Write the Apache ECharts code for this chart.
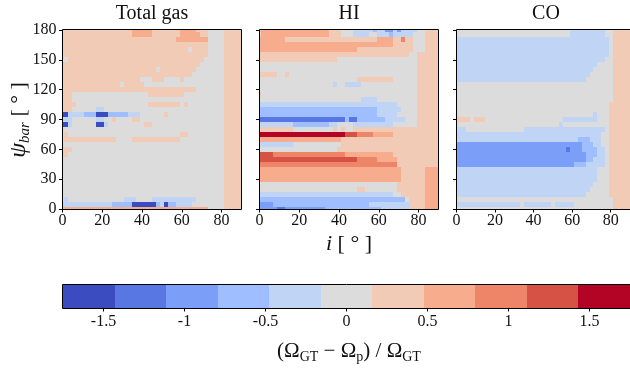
<!DOCTYPE html>
<html><head><meta charset="utf-8">
<script src="https://cdn.jsdelivr.net/npm/echarts@6.0.0/dist/echarts.min.js"></script>
<style>html,body{margin:0;padding:0;background:#fff}#c{width:630px;height:368px}</style>
</head><body><div id="c"></div>
<script>
// ---------------- data ----------------
const panelTitles = ['Total gas', 'HI', 'CO'];
// inclination i (deg), cell centres
const inclination = [0,2,4,6,8,10,12,14,16,18,20,22,24,26,28,30,32,34,36,38,40,42,44,46,48,50,52,54,56,58,60,62,64,66,68,70,72,74,76,78,80,82,84,86,88,90];
// bar angle psi_bar (deg), rows top -> bottom
const psiBar = [180,175,170,165,160,155,150,145,140,135,130,125,120,115,110,105,100,95,90,85,80,75,70,65,60,55,50,45,40,35,30,25,20,15,10,5,0];
const xTicks = [0,20,40,60,80];
const yTicks = [0,30,60,90,120,150,180];
const cbTicks = [-1.5,-1,-0.5,0,0.5,1,1.5];
const cbEdges = [-1.75,-1.432,-1.114,-0.795,-0.477,-0.159,0.159,0.477,0.795,1.114,1.432,1.75];
const cbColors = ['#3b4cc0','#5977e3','#7b9ff9','#9ebeff','#c0d4f5','#dddcdc','#f2cbb7','#f7ac8e','#ee8468','#d65244','#b40426'];
// estimated (Ω_GT − Ω_p)/Ω_GT per colour class
const codeValues = {E:-1.59,D:-1.27,C:-0.95,B:-0.64,A:-0.32,'.':0,a:0.32,b:0.64,c:0.95,d:1.27,e:1.59};
// run-length rows: <class><count>, 46 cells per row (i = 0..90)
const totalGasRows = [
'a18b5a7b4a3.4a5','a18b5a7b5a2.4a5','a29b8.4a5','a37.4a5','a32.1a4.4a5','a37.4a5',
'.2a34.5a5','a35.6a5','a24.1a9.7a5','a33.8a5','a20.3a3.4a1.10a5','a15.1a5.20a5',
'a34.7a5','a3.19a9.10a5','a3.38a5','a4.18a8.1a1.9a5','a3.6A2.30a5',
'E2A4B3E3B5A3.6a1.14a5','A3.6A2.2a1.4a2.21a5','E2A1.6E2A1.9a2.18a5','.41a5',
'.1a1.28a2.9a5','.1a13.4a12.11a5','.41a5','a3.38a5','a2.39a5','.41a5','.41a5',
'.41a5','.41a5','.41a5','.41a5','.41a5','.41a5',
'.1A1.14A3.4A11.7a5','A13B5E6B1A1E1B2A4.8a5','b37.4a5'];
const hiRows = [
'a1b17a3.3A5B1A2C2A1C1A4.2a4','a1b17a3.3A4.2A3B1A5.3a4','b7a23b4a2c1a2.3a4','b34a5.3a4',
'b25a14.3a4','a38.2a6','a20.20a6','.40a6','.40a6','a5.2a1.32a6','.25a9.6a6',
'.19A1.2A4.14a6','.40a6','a1.39a6','.26A4.10a6','A35.5a6','B30A6.4a6','B30A5.5a6',
'D22B1D2B7A5.3a6','A9B9A2.4A10.6a6','a9.10a1.1a1.2a22','e22d3c4b5a12','b21a25',
'A9.12a25','.20a26','d4c18b12a12','d25c5b5a11','c35a11','b36a6b4','b36a6b4','b36a6b4',
'.35a7b4','.25a2.8a7b4','A34.2a6b4','B37.1a4b4','C4B24A10a4b4','C5D2C10B14A7a4b4'];
const coRows = [
'.30A9.2a5','.30A9.2a5','A40.1a5','A40.1a5','A40.1a5','A40.1a5','A39.2a5','A37.4a5',
'A36.5a5','A35.6a5','A34.7a5','.41a5','.41a5','.41a5','.41a5','.40a6','.40a6',
'.36A1.3a6','a4.1a3.20A9.3a6','.27A1.12a6','.1A2.15A21.1a6','A38.2a6','A32B3A3.2a6',
'C33B3A2.2a6','C29D1C3B4A2.1a6','C34B3A2.1a6','C34B2A3.1a6','C31B3A5.1a6',
'A37.3a6','A37.3a6','A37.3a6','A36.4a6','A35.5a6','A34.6a6','.41a5',
'A17.1A7.1A5.10a5','.41a5'];

// ---------------- build ----------------
function decode(rows){
  const out = [];
  rows.forEach((r,k)=>{
    const cells = [];
    r.replace(/([A-Ea-e.])(\d+)/g,(m,c,n)=>{for(let t=0;t<+n;t++)cells.push(c);return m;});
    for(let j=0;j<inclination.length;j++){
      const c = cells[j] !== undefined ? cells[j] : cells[cells.length-1];
      out.push([inclination[j], psiBar[k], codeValues[c]]);
    }
  });
  return out;
}
const FONT = 'Liberation Serif';
const chart = echarts.init(document.getElementById('c'), null, {renderer:'canvas'});
const gridLefts = [62.5, 259.5, 456.5];
const PW = 179, PT = 30, PH = 179;
const grids = [], xAxes = [], yAxes = [], series = [];
const panelData = [totalGasRows, hiRows, coRows].map(decode);
const halfI = 1, halfP = 2.5;

function cellItem(params, api){
  const i = api.value(0), p = api.value(1);
  const a = api.coord([i-halfI, p+halfP]);
  const b = api.coord([i+halfI, p-halfP]);
  const cs = params.coordSys;
  const x0 = Math.round(Math.max(a[0], cs.x)), x1 = Math.round(Math.min(b[0], cs.x+cs.width));
  const y0 = Math.round(Math.max(a[1], cs.y)), y1 = Math.round(Math.min(b[1], cs.y+cs.height));
  if (x1<=x0 || y1<=y0) return null;
  return {type:'rect', shape:{x:x0,y:y0,width:x1-x0,height:y1-y0}, style:{fill:api.visual('color')}};
}
const tickSt = {color:'#000', width:1};
gridLefts.forEach((L,k)=>{
  grids.push({left:L, top:PT, width:PW, height:PH});
  xAxes.push({gridIndex:k, type:'value', min:0, max:90, interval:20, position:'bottom',
    axisLine:{show:false, onZero:false},
    axisTick:{show:true, length:3.5, customValues:xTicks, lineStyle:tickSt},
    axisLabel:{show:true, customValues:xTicks, margin:4, fontSize:16, color:'#111', fontFamily:FONT},
    splitLine:{show:false}});
  yAxes.push({gridIndex:k, type:'value', min:0, max:180, interval:30, position:'left',
    axisLine:{show:false, onZero:false},
    axisTick:{show:true, length:3.5, customValues:yTicks, lineStyle:tickSt},
    axisLabel:{show:k===0, customValues:yTicks, margin:6, fontSize:16, color:'#111', fontFamily:FONT},
    splitLine:{show:false}});
  series.push({type:'custom', name:panelTitles[k], xAxisIndex:k, yAxisIndex:k, data:panelData[k],
    encode:{x:0, y:1}, renderItem:cellItem, clip:true, z:2, silent:true});
});
// colour bar
const CB = {left:63, top:285, width:568, height:23};
grids.push(CB);
xAxes.push({gridIndex:3, type:'value', min:-1.75, max:1.75, position:'bottom',
  axisLine:{show:false, onZero:false},
  axisTick:{show:true, length:3.5, customValues:cbTicks, lineStyle:tickSt},
  axisLabel:{show:true, customValues:cbTicks, margin:6, fontSize:16, color:'#111', fontFamily:FONT},
  splitLine:{show:false}});
yAxes.push({gridIndex:3, type:'value', min:0, max:1, position:'left',
  axisLine:{show:false, onZero:false}, axisTick:{show:false}, axisLabel:{show:false}, splitLine:{show:false}});
series.push({type:'custom', name:'colorbar', xAxisIndex:3, yAxisIndex:3,
  data:cbColors.map((c,k)=>[cbEdges[k], cbEdges[k+1], (cbEdges[k]+cbEdges[k+1])/2]),
  encode:{x:[0,1]}, clip:true, z:2, silent:true,
  renderItem:function(params, api){
    const a = api.coord([api.value(0), 1]);
    const b = api.coord([api.value(1), 0]);
    const x0 = Math.round(a[0]), x1 = Math.round(b[0]);
    return {type:'rect', shape:{x:x0, y:a[1], width:x1-x0, height:b[1]-a[1]}, style:{fill:api.visual('color')}};
  }});

const pieces = cbColors.map((c,k)=>k===cbColors.length-1 ? {gte:cbEdges[k], lte:cbEdges[k+1], color:c} : {gte:cbEdges[k], lt:cbEdges[k+1], color:c});

const txt = '#111';
const graphic = [];
gridLefts.forEach((L)=>{
  graphic.push({type:'rect', silent:true, z:100,
    shape:{x:L, y:PT-0.5, width:PW, height:PH+1}, style:{fill:null, stroke:'#000', lineWidth:1}});
});
graphic.push({type:'rect', silent:true, z:100,
  shape:{x:CB.left-0.5, y:CB.top-0.5, width:CB.width, height:CB.height+1}, style:{fill:null, stroke:'#000', lineWidth:1}});
panelTitles.forEach((t,k)=>{
  graphic.push({type:'text', x:gridLefts[k]+PW/2, y:14, silent:true,
    style:{text:t, fontFamily:FONT, fontSize:20, fill:txt, align:'center', verticalAlign:'middle'}});
});
graphic.push({type:'text', x:19, y:120, rotation:Math.PI/2, silent:true,
  style:{text:'{it|ψ}{sub|bar}{n| [ ° ]}', align:'center', verticalAlign:'middle', fill:txt,
    rich:{it:{fontFamily:FONT, fontStyle:'italic', fontSize:24, lineHeight:28, fill:txt},
          sub:{fontFamily:FONT, fontStyle:'italic', fontSize:15, lineHeight:14, verticalAlign:'bottom', fill:txt},
          n:{fontFamily:FONT, fontSize:22, lineHeight:28, fill:txt}}}});
graphic.push({type:'text', x:gridLefts[1]+PW/2, y:244, silent:true,
  style:{text:'{it|i}{n| [ ° ]}', align:'center', verticalAlign:'middle', fill:txt,
    rich:{it:{fontFamily:FONT, fontStyle:'italic', fontSize:22, lineHeight:26, fill:txt},
          n:{fontFamily:FONT, fontSize:22, lineHeight:26, fill:txt}}}});
graphic.push({type:'text', x:349, y:351, silent:true,
  style:{text:'{n|(Ω}{sub|GT}{n| − Ω}{sub|p}{n|) / Ω}{sub|GT}', align:'center', verticalAlign:'middle', fill:txt,
    rich:{n:{fontFamily:FONT, fontSize:21, lineHeight:26, fill:txt},
          sub:{fontFamily:FONT, fontSize:14, lineHeight:14, verticalAlign:'bottom', fill:txt}}}});

chart.setOption({
  animation:false,
  backgroundColor:'#fff',
  textStyle:{fontFamily:FONT},
  grid:grids, xAxis:xAxes, yAxis:yAxes,
  visualMap:{type:'piecewise', show:false, dimension:2, seriesIndex:[0,1,2,3], pieces:pieces},
  series:series,
  graphic:graphic
});
</script>
</body></html>
